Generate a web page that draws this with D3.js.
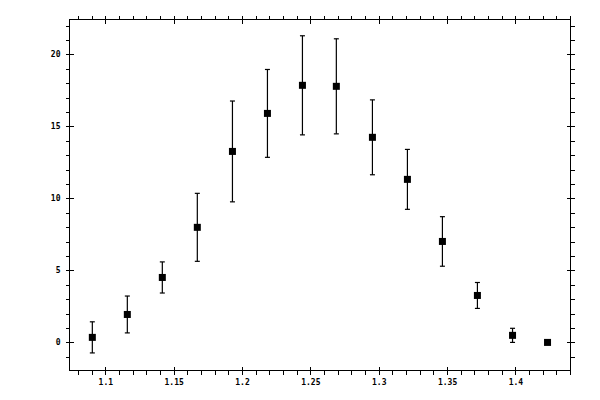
<!DOCTYPE html>
<html><head><meta charset="utf-8">
<script src="https://cdn.jsdelivr.net/npm/d3@7"></script>
<style>body{margin:0;background:#fff}svg{display:block}</style>
</head><body>
<script>
const xValues = [1.0905, 1.1161, 1.1417, 1.1673, 1.1930, 1.2186, 1.2442, 1.2690, 1.2954, 1.3210, 1.3466, 1.3722, 1.3979, 1.4235];
const yValues = [0.35, 1.94, 4.51, 7.99, 13.26, 15.90, 17.85, 17.78, 14.24, 11.32, 7.01, 3.26, 0.49, 0.0];
const yErrors = [1.08, 1.28, 1.08, 2.36, 3.50, 3.05, 3.44, 3.30, 2.60, 2.08, 1.72, 0.90, 0.49, 0.0];
const xMajorTicks = [1.1, 1.15, 1.2, 1.25, 1.3, 1.35, 1.4];
const xMinorTicks = [1.08,1.09,1.11,1.12,1.13,1.14,1.16,1.17,1.18,1.19,1.21,1.22,1.23,1.24,1.26,1.27,1.28,1.29,1.31,1.32,1.33,1.34,1.36,1.37,1.38,1.39,1.41,1.42,1.43,1.44];
const yMajorTicks = [0, 5, 10, 15, 20];
const yMinorTicks = [-1,1,2,3,4,6,7,8,9,11,12,13,14,16,17,18,19,21,22];

const W = 600, H = 400;
const L = 69.5, R = 570.5, T = 19.5, B = 370.5;
const svg = d3.select("body").append("svg").attr("width", W).attr("height", H);
const x = d3.scaleLinear().domain([1.0738, 1.4403]).range([L, R]);
const y = d3.scaleLinear().domain([-1.95, 22.42]).range([B, T]);

const font = "'DejaVu Sans Mono', monospace";

function styleAxis(g){ g.select(".domain").remove(); g.selectAll("line").attr("stroke","#000").attr("stroke-width",1).attr("shape-rendering","crispEdges"); g.selectAll("text").attr("font-family",font).attr("font-size",8).attr("font-weight","bold").attr("fill","#000"); }

// bottom
svg.append("g").attr("transform",`translate(0,${B})`).call(d3.axisBottom(x).tickValues(xMajorTicks).tickSize(4).tickPadding(5).tickFormat(d3.format("~g"))).call(styleAxis).call(g=>g.selectAll("line").attr("y1",-4));
svg.append("g").attr("transform",`translate(0,${B})`).call(d3.axisBottom(x).tickValues(xMinorTicks).tickSize(4).tickFormat("")).call(styleAxis);
// top
svg.append("g").attr("transform",`translate(0,${T})`).call(d3.axisTop(x).tickValues(xMajorTicks).tickSize(4).tickFormat("")).call(styleAxis).call(g=>g.selectAll("line").attr("y1",4));
svg.append("g").attr("transform",`translate(0,${T})`).call(d3.axisTop(x).tickValues(xMinorTicks).tickSize(4).tickFormat("")).call(styleAxis);
// left
svg.append("g").attr("transform",`translate(${L},0)`).call(d3.axisLeft(y).tickValues(yMajorTicks).tickSize(4).tickPadding(5).tickFormat(d3.format("d"))).call(styleAxis).call(g=>g.selectAll("line").attr("x1",4));
svg.append("g").attr("transform",`translate(${L},0)`).call(d3.axisLeft(y).tickValues(yMinorTicks).tickSize(4).tickFormat("")).call(styleAxis);
// right
svg.append("g").attr("transform",`translate(${R},0)`).call(d3.axisRight(y).tickValues(yMajorTicks).tickSize(4).tickFormat("")).call(styleAxis).call(g=>g.selectAll("line").attr("x1",-4));
svg.append("g").attr("transform",`translate(${R},0)`).call(d3.axisRight(y).tickValues(yMinorTicks).tickSize(4).tickFormat("")).call(styleAxis);

// frame
svg.append("rect").attr("x",L).attr("y",T).attr("width",R-L).attr("height",B-T).attr("fill","none").attr("stroke","#000").attr("stroke-width",1).attr("shape-rendering","crispEdges");

const data = xValues.map((v,i)=>({x:v,y:yValues[i],e:yErrors[i]}));
const eb = svg.append("g").attr("stroke","#000").attr("stroke-width",1.2);
data.filter(d=>d.e>0).forEach(d=>{
  const cx = x(d.x), y1 = y(d.y+d.e), y2 = y(d.y-d.e);
  eb.append("line").attr("x1",cx).attr("x2",cx).attr("y1",y1).attr("y2",y2);
  eb.append("line").attr("x1",cx-2.5).attr("x2",cx+2.5).attr("y1",y1).attr("y2",y1);
  eb.append("line").attr("x1",cx-2.5).attr("x2",cx+2.5).attr("y1",y2).attr("y2",y2);
});
svg.append("g").selectAll("rect").data(data).join("rect")
  .attr("x",d=>x(d.x)-3.5).attr("y",d=>y(d.y)-3.5).attr("width",7).attr("height",7).attr("fill","#000");
</script>
</body></html>
